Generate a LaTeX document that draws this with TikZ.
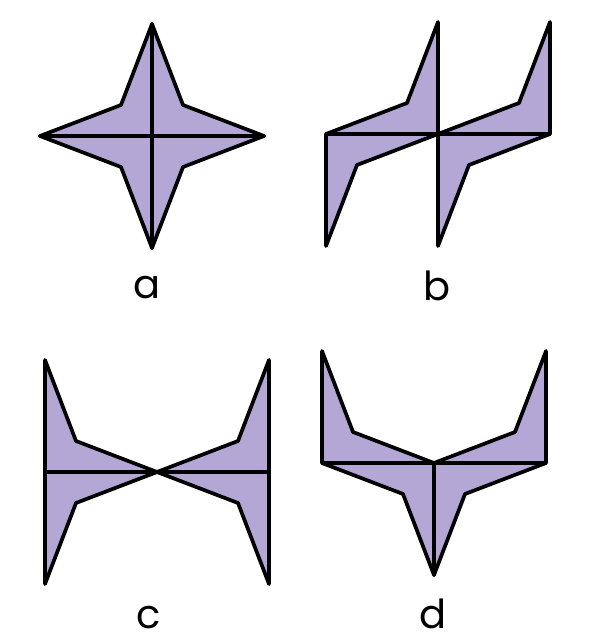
\documentclass[tikz,border=0pt]{standalone}
\usepackage{fontspec}
\setsansfont{Poppins}
\definecolor{lavender}{RGB}{180,167,214}
\def\PieceUL(#1){\filldraw (#1) -- ++(0,-112) -- ++(-31,81) -- ++(-81,31) -- cycle;}
\def\PieceUR(#1){\filldraw (#1) -- ++(0,-112) -- ++(31,81) -- ++(81,31) -- cycle;}
\def\PieceLL(#1){\filldraw (#1) -- ++(0,112) -- ++(-31,-81) -- ++(-81,-31) -- cycle;}
\def\PieceLR(#1){\filldraw (#1) -- ++(0,112) -- ++(31,-81) -- ++(81,-31) -- cycle;}
\tikzset{starpiece/.style={x=1pt,y=-1pt,line width=3.7pt,fill=lavender,line join=round},
         starlabel/.style={font=\sffamily\fontsize{40}{48}\selectfont,anchor=base}}

\begin{document}
\begin{tikzpicture}[starpiece]
\useasboundingbox (0,0) rectangle (601,643);
\PieceUL(152,136) \PieceUR(152,136) \PieceLL(152,136) \PieceLR(152,136)
\PieceUL(438,134) \PieceLR(326,134) \PieceUL(550,134) \PieceLR(438,134)
\PieceUR(45,472)  \PieceLR(45,472)  \PieceUL(269,472) \PieceLL(269,472)
\PieceUR(322,463) \PieceUL(546,463) \PieceLL(434,463) \PieceLR(434,463)
\node[starlabel] (a) at (147,298) {a};
\node[starlabel] (b) at (437,300) {b};
\node[starlabel] (c) at (149,628) {c};
\node[starlabel] (d) at (433,628) {d};
\end{tikzpicture}
\end{document}
